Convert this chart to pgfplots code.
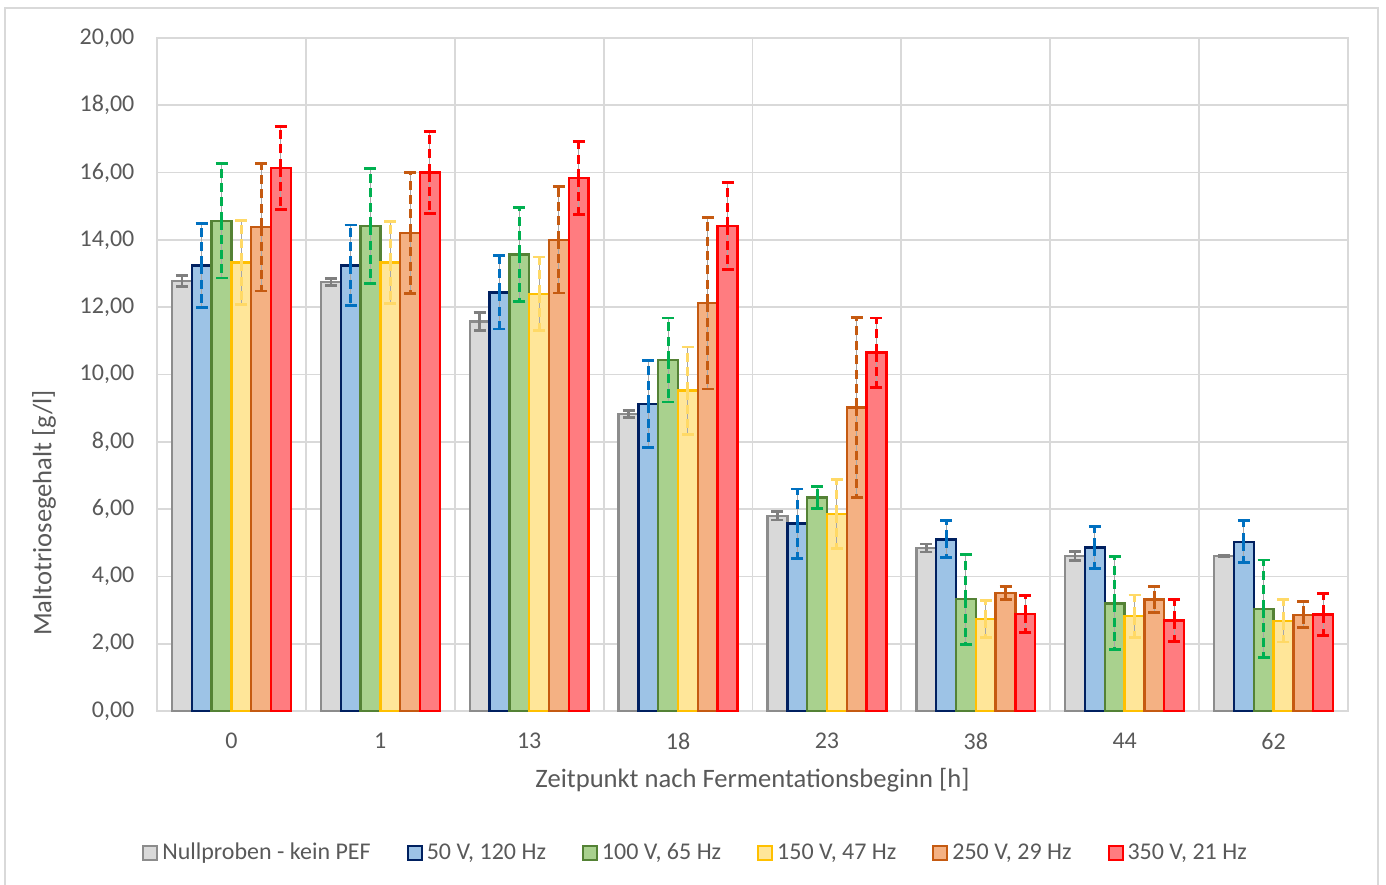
\documentclass[border=0pt]{standalone}
\usepackage{fontspec}
\setmainfont{Carlito}
\usepackage{pgfplots}
\pgfplotsset{compat=1.18}
\usepackage{pgfplotstable}

\definecolor{txt}{HTML}{595959}
\definecolor{grd}{HTML}{D9D9D9}
\definecolor{thin}{HTML}{A6A6A6}
\definecolor{gfill}{HTML}{D9D9D9}\definecolor{gdraw}{HTML}{8C8C8C}\definecolor{gerr}{HTML}{7F7F7F}
\definecolor{bfill}{HTML}{9DC3E6}\definecolor{bdraw}{HTML}{002060}\definecolor{berr}{HTML}{0070C0}
\definecolor{nfill}{HTML}{A9D18E}\definecolor{ndraw}{HTML}{548235}\definecolor{nerr}{HTML}{00B050}
\definecolor{yfill}{HTML}{FFE699}\definecolor{ydraw}{HTML}{FFC000}\definecolor{yerr}{HTML}{FFD966}
\definecolor{ofill}{HTML}{F4B183}\definecolor{odraw}{HTML}{C55A11}\definecolor{oerr}{HTML}{C55A11}
\definecolor{rfill}{HTML}{FF7C80}\definecolor{rdraw}{HTML}{FF0000}\definecolor{rerr}{HTML}{FF0000}

\pgfplotstableread{
x y e
0 12.78 0.16
1 12.75 0.10
2 11.57 0.27
3 8.83 0.10
4 5.80 0.12
5 4.84 0.12
6 4.61 0.13
7 4.61 0.03
}\tgrey
\pgfplotstableread{
x y e
0 13.24 1.25
1 13.24 1.20
2 12.44 1.09
3 9.12 1.30
4 5.57 1.03
5 5.10 0.55
6 4.86 0.63
7 5.03 0.62
}\tblue
\pgfplotstableread{
x y e
0 14.57 1.70
1 14.41 1.70
2 13.57 1.40
3 10.43 1.25
4 6.34 0.32
5 3.32 1.34
6 3.20 1.38
7 3.04 1.45
}\tgreen
\pgfplotstableread{
x y e
0 13.33 1.25
1 13.33 1.21
2 12.40 1.09
3 9.52 1.30
4 5.86 1.03
5 2.73 0.55
6 2.82 0.63
7 2.68 0.63
}\tyellow
\pgfplotstableread{
x y e
0 14.38 1.90
1 14.21 1.80
2 14.00 1.58
3 12.12 2.55
4 9.02 2.68
5 3.50 0.19
6 3.31 0.38
7 2.86 0.39
}\torange
\pgfplotstableread{
x y e
0 16.14 1.24
1 16.00 1.21
2 15.84 1.08
3 14.41 1.30
4 10.65 1.03
5 2.89 0.55
6 2.69 0.63
7 2.87 0.62
}\tred

\newcommand{\barseries}[5]{%
  \addplot[fill=#3, draw=#4, line width=1.2pt, bar shift=#2] table[x=x,y=y]{#1};
  \addlegendentry{#5}}
\newcommand{\thinerr}[2]{%
  \addplot[draw=none, fill=none, bar shift=#2, forget plot,
    error bars/.cd, y dir=both, y explicit, error mark=none,
    error bar style={draw=thin, line width=0.5pt, solid}] table[x=x,y=y,y error=e]{#1};}
\newcommand{\dasherr}[3]{%
  \addplot[draw=none, fill=none, bar shift=#2, forget plot,
    error bars/.cd, y dir=both, y explicit,
    error bar style={draw=#3, line width=1.5pt, dash pattern=on 4.5pt off 2.7pt},
    error mark options={rotate=90, draw=#3, line width=1.4pt, solid, mark size=3pt}] table[x=x,y=y,y error=e]{#1};}

\begin{document}
\begin{tikzpicture}
\begin{axis}[
  scale only axis, width=595.5pt, height=336.5pt,
  ybar, bar width=9.9pt,
  xmin=-0.5, xmax=7.5, ymin=0, ymax=20,
  xtick={0,...,7}, xticklabels={0,1,13,18,23,38,44,62},
  minor xtick={-0.5,0.5,...,7.5},
  ytick={0,2,...,20},
  major tick length=0pt, minor tick length=0pt,
  ymajorgrids, xminorgrids,
  grid style={grd, line width=0.9pt},
  minor grid style={grd, line width=0.9pt},
  axis line style={grd, line width=1pt},
  /pgf/number format/assume math mode=true,
  yticklabel style={/pgf/number format/fixed, /pgf/number format/fixed zerofill, /pgf/number format/precision=2, /pgf/number format/use comma, xshift=-7.8pt},
  ticklabel style={font=\fontsize{12}{14}\selectfont, text=txt},
  xticklabel style={yshift=-7.5pt},
  xlabel={Zeitpunkt nach Fermentationsbeginn [h]},
  ylabel={Maltotriosegehalt [g/l]},
  every axis x label/.style={at={(axis description cs:0.5,-0.1025)}, anchor=center, font=\fontsize{13.3}{15}\selectfont, text=txt},
  every axis y label/.style={at={(axis description cs:-0.0949,0.294)}, anchor=center, rotate=90, font=\fontsize{13.3}{15}\selectfont, text=txt},
  legend style={draw=none, fill=none, at={(axis description cs:0.453,-0.211)}, anchor=center,
    legend columns=6, font=\fontsize{12}{14}\selectfont, text=txt,
    /tikz/every even column/.append style={column sep=16pt}},
  legend cell align=left,
  legend image code/.code={\draw[#1, line width=1pt] (0pt,-3.5pt) rectangle (7pt,3.5pt);},
]
\barseries{\tgrey}{-24.75pt}{gfill}{gdraw}{Nullproben - kein PEF}
\barseries{\tblue}{-14.85pt}{bfill}{bdraw}{50 V, 120 Hz}
\barseries{\tgreen}{-4.95pt}{nfill}{ndraw}{100 V, 65 Hz}
\barseries{\tyellow}{4.95pt}{yfill}{ydraw}{150 V, 47 Hz}
\barseries{\torange}{14.85pt}{ofill}{odraw}{250 V, 29 Hz}
\barseries{\tred}{24.75pt}{rfill}{rdraw}{350 V, 21 Hz}
\addplot[draw=none, fill=none, bar shift=-24.75pt, forget plot,
    error bars/.cd, y dir=both, y explicit,
    error bar style={draw=gerr, line width=1.3pt, solid},
    error mark options={rotate=90, draw=gerr, line width=1.3pt, solid, mark size=3pt}] table[x=x,y=y,y error=e]{\tgrey};
\thinerr{\tblue}{-14.85pt}\dasherr{\tblue}{-14.85pt}{berr}
\thinerr{\tgreen}{-4.95pt}\dasherr{\tgreen}{-4.95pt}{nerr}
\thinerr{\tyellow}{4.95pt}\dasherr{\tyellow}{4.95pt}{yerr}
\thinerr{\torange}{14.85pt}\dasherr{\torange}{14.85pt}{oerr}
\thinerr{\tred}{24.75pt}\dasherr{\tred}{24.75pt}{rerr}
\end{axis}
\draw[grd, line width=1pt] (-75.75pt,-95pt) rectangle (610.5pt,351.5pt);
\pgfresetboundingbox
\path[use as bounding box] (-78.5pt,-86.5pt) rectangle (614.5pt,355.5pt);
\end{tikzpicture}
\end{document}
